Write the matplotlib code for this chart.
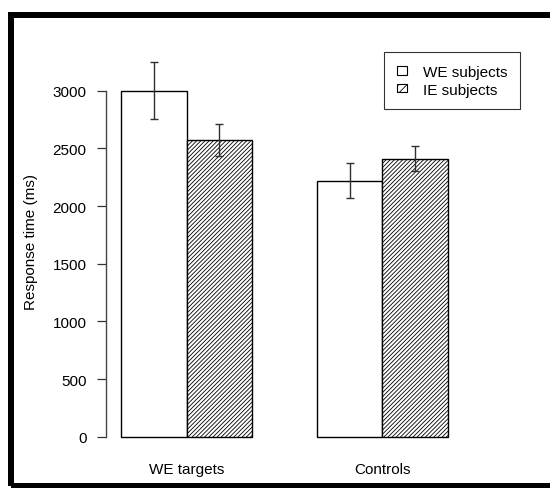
import matplotlib
matplotlib.use("Agg")
import matplotlib.pyplot as plt
from matplotlib.patches import Rectangle, Patch

plt.rcParams['font.family'] = ['Liberation Sans', 'DejaVu Sans']
plt.rcParams['hatch.linewidth'] = 0.6

# Mean response times and standard errors
groups = ["WE targets", "Controls"]
series = ["WE subjects", "IE subjects"]
means_we = [3000, 2572]      # WE targets: WE subjects, IE subjects
means_ctrl = [2219, 2410]    # Controls:   WE subjects, IE subjects
err_we = [245, 135]
err_ctrl = [150, 107]
yticks = [0, 500, 1000, 1500, 2000, 2500, 3000]

W, H, DPI = 550, 489, 100
fig = plt.figure(figsize=(W / DPI, H / DPI), dpi=DPI)
fig.patch.set_facecolor("white")

# axes placed in pixel terms
ax_l, ax_r, ax_t, ax_b = 106, 463, 50, 453
ax = fig.add_axes([ax_l / W, 1 - ax_b / H, (ax_r - ax_l) / W, (ax_b - ax_t) / H])

hatches = [None, "////////"]
centers = [[1.5, 2.5], [4.5, 5.5]]
all_means = [means_we, means_ctrl]
all_errs = [err_we, err_ctrl]

for g in range(2):
    for s in range(2):
        ax.bar(centers[g][s], all_means[g][s], width=1.0, color="white",
               edgecolor="black", linewidth=1.0, hatch=hatches[s], zorder=2)
        ax.errorbar(centers[g][s], all_means[g][s], yerr=all_errs[g][s],
                    fmt="none", ecolor="#303030", elinewidth=1.0,
                    capsize=2.9, capthick=1.0, zorder=3)

y0_px = 437.9
px_per_unit = 0.11543
ax.set_ylim(-(ax_b - y0_px) / px_per_unit, (y0_px - ax_t) / px_per_unit)
ax.set_xlim(0.766, 0.766 + (ax_r - ax_l) / 65.3)

for side in ["top", "right", "bottom"]:
    ax.spines[side].set_visible(False)
ax.spines["left"].set_bounds(0, 3000)
ax.spines["left"].set_color("#444444")
ax.spines["left"].set_linewidth(1.0)

ax.set_yticks(yticks)
ax.set_yticklabels([str(v) for v in yticks])
ax.tick_params(axis="y", length=6.7, width=0.9, color="#333333", pad=7.2,
               labelsize=11)
ax.set_xticks([2, 5])
ax.set_xticklabels(groups)
ax.tick_params(axis="x", length=0, pad=7, labelsize=11)

ax.set_ylabel("Response time (ms)", fontsize=11)
ax.yaxis.set_label_coords((38 - ax_l) / (ax_r - ax_l), (ax_b - 242) / (ax_b - ax_t))

handles = [Patch(facecolor="white", edgecolor="black", linewidth=0.8),
           Patch(facecolor="white", edgecolor="black", linewidth=0.8, hatch="////")]
leg = fig.legend(handles, series, loc="upper right",
                 bbox_to_anchor=(520 / W, 1 - 52.7 / H),
                 bbox_transform=fig.transFigure, borderaxespad=0,
                 fontsize=11, fancybox=False, frameon=True,
                 handlelength=0.68, handleheight=0.5, handletextpad=1.0,
                 labelspacing=0.25, borderpad=0.85)
leg.get_frame().set_edgecolor("black")
leg.get_frame().set_linewidth(0.8)

# thick outer frame around the figure
lw_px = 6
frame = Rectangle((11 / W, 1 - 487 / H), (553 - 11) / W, (487 - 16) / H,
                  transform=fig.transFigure, fill=False, edgecolor="black",
                  linewidth=lw_px * 72 / DPI, clip_on=False)
fig.patches.append(frame)

fig.savefig("out.png", dpi=DPI)
